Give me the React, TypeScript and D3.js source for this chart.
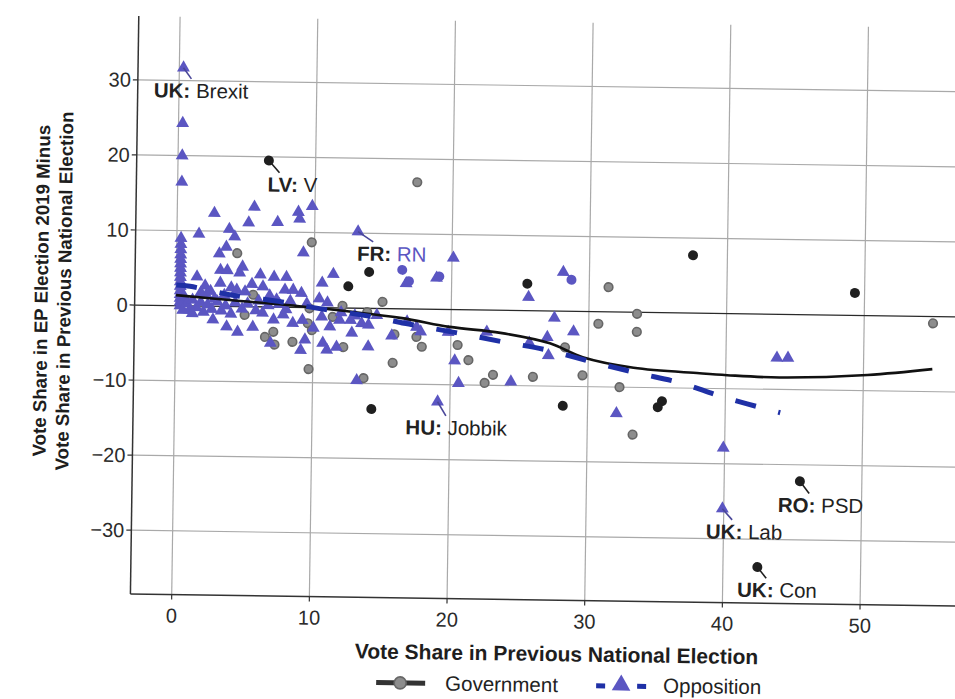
import React from 'react';
import * as d3 from 'd3';

const W = 955;
const H = 699;

const xTicks = [0, 10, 20, 30, 40, 50];
const yTicks = [-30, -20, -10, 0, 10, 20, 30];

// Government parties: [vote share in previous national election, EP 2019 change]
const govGrey: [number, number][] = [
  [17.4, 16.9], [9.8, 8.7], [4.4, 7.1], [15.0, 0.9], [5.0, -1.1], [5.6, 1.6], [9.7, -0.1],
  [12.1, 0.3], [13.9, -0.5], [11.4, -1.2], [6.5, -4.0], [7.1, -3.3], [8.5, -4.6], [9.6, -2.1],
  [9.9, -3.0], [12.2, -5.2], [7.2, -5.0], [9.7, -8.2], [15.8, -7.2], [13.7, -9.3], [17.5, -3.7],
  [17.9, -5.0], [20.5, -4.7], [21.3, -6.7], [23.1, -8.6], [22.5, -9.7], [26.0, -8.8], [29.6, -8.5],
  [28.3, -4.8], [32.3, -10.0], [33.3, -16.3], [31.4, 3.3], [30.7, -1.6], [33.5, -2.6], [33.5, -0.2],
  [55.0, -0.9], [15.9, -3.4],
];

const govBlack: [number, number][] = [
  [6.6, 19.5], [14.0, 4.85], [12.5, 2.9], [14.3, -13.4], [25.5, 3.6], [37.5, 7.7], [49.3, 3.0],
  [28.2, -12.6], [35.4, -11.8], [35.1, -12.6], [45.5, -22.2], [42.5, -33.7],
];

// Opposition parties
const oppTri: [number, number][] = [
  [0.3, 31.7], [0.3, 24.3], [0.3, 20.0], [0.3, 16.5],
  [2.7, 12.4], [5.6, 13.3], [8.8, 12.7], [9.8, 13.5], [8.9, 11.8], [7.3, 11.3], [5.2, 11.2],
  [1.6, 9.6], [3.8, 10.3], [4.2, 9.3], [3.6, 7.9], [3.1, 7.0], [9.2, 7.3], [13.15, 10.2],
  [3.2, 4.8], [3.7, 4.8], [4.8, 5.3], [4.6, 4.5], [6.1, 4.3], [7.1, 4.0], [8.0, 4.0], [1.5, 3.9],
  [2.1, 2.7], [3.2, 3.1], [4.4, 2.2], [6.3, 2.7], [7.9, 2.3], [8.5, 2.3], [9.1, 1.9], [10.6, 3.3],
  [11.4, 4.5], [10.4, 1.2],
  [2.7, -1.8], [3.7, -2.7], [4.5, -3.4], [5.6, -2.7], [6.3, -0.8], [7.1, -1.7], [7.8, -1.0],
  [8.5, -2.1], [9.2, -1.7], [10.0, -2.7], [10.6, -1.2], [11.2, -2.5], [11.9, -1.6], [12.7, -1.6],
  [14.6, -0.9], [6.9, -4.8], [9.1, -5.7], [9.4, -4.3], [11.0, -5.6], [10.7, -4.7], [11.7, -5.2],
  [14.0, -5.1], [15.7, -3.6], [13.2, -9.6], [16.8, -1.7], [17.5, -2.4],
  [20.1, 6.9], [18.9, 4.2], [16.7, 3.4], [28.1, 5.2], [25.6, 1.8], [27.5, -0.9], [28.9, -2.7],
  [27.0, -3.5], [25.7, -4.3], [22.6, -2.9], [19.8, -3.0], [17.8, -3.0], [20.3, -6.8], [20.6, -9.8],
  [24.4, -9.5], [27.1, -5.9], [32.1, -13.5], [19.1, -12.3], [43.7, -5.8], [44.5, -5.8],
  [39.9, -17.9], [39.9, -26.0],
  [0.3, 9.0], [0.3, 8.2], [0.3, 7.5], [0.3, 6.8], [0.3, 6.2], [0.3, 5.6], [0.3, 5.0], [0.3, 4.4],
  [0.3, 3.8], [0.3, 3.2], [0.3, 2.6], [0.3, 2.0], [0.3, 1.5], [0.3, 1.0], [0.3, 0.5], [0.3, 0.0],
  [0.6, 1.2], [0.8, 0.3], [1.0, -0.5], [1.2, 0.8], [1.5, -0.2], [1.8, 0.5], [2.0, -0.8], [2.3, 0.2],
  [2.6, -0.4], [3.0, 0.6], [3.3, -0.6], [0.5, -0.6], [1.2, -1.0], [2.2, 1.5], [2.8, 1.0], [3.6, 0.1],
  [4.0, -1.0], [4.3, 0.5], [4.8, -0.3], [5.2, 0.4], [5.8, -0.5], [6.0, 0.8], [6.7, 0.2], [7.5, 0.4],
  [8.0, -0.3], [1.8, 1.8], [2.5, 2.0], [3.5, 1.5], [4.0, 2.5], [5.0, 2.0], [5.5, 3.0], [6.8, 1.5],
  [7.3, 1.0], [8.3, 0.8], [9.5, 0.5], [11.0, 0.7], [12.0, -0.6], [13.0, -1.0], [14.0, -2.2],
  [13.5, -2.0], [12.8, -3.3],
];

const oppCircle: [number, number][] = [[16.4, 5.2], [16.9, 3.7], [19.1, 4.4], [28.7, 4.2]];

// Smoothed trends
const govSmooth: [number, number][] = [
  [0, 1.4], [3.9, 0.85], [9.7, 0.05], [16.3, -1.2], [19.9, -2.3], [23.6, -3.0], [27.2, -4.3],
  [29.6, -6.1], [33.3, -7.4], [38.1, -8.0], [40.1, -8.2], [43.9, -8.4], [50.3, -7.9], [55.0, -7.0],
];
const oppSmooth: [number, number][] = [
  [0, 2.75], [1.0, 2.6], [4.1, 1.5], [7.7, 0.7], [10.0, 0.0], [13.9, -1.0], [17.2, -2.1],
  [20.5, -3.1], [23.8, -4.2], [27.0, -5.2], [30.3, -6.7], [33.6, -8.1], [36.7, -9.3],
  [39.8, -11.1], [44.0, -13.1],
];

// Annotated parties
const labelCountry = ['UK', 'LV', 'FR', 'HU', 'RO', 'UK', 'UK'];
const labelParty = ['Brexit', 'V', 'RN', 'Jobbik', 'PSD', 'Lab', 'Con'];
const labelX = [0.3, 6.6, 13.15, 19.1, 45.5, 39.9, 42.5];
const labelY = [31.7, 19.5, 10.2, -12.3, -22.2, -26.0, -33.7];
const labelIsOpp = [true, false, true, true, false, true, false];

// label placement (pixel offsets from the marker)
const labelDx = [18, 24, 34, 19, 21, 22, 20];
const labelDy = [23, 24, 22, 26, 24, 23, 23];

const OPP = '#5b56c2';
const OPP_LINE = '#1f30a6';
const FONT = '"Liberation Sans", Arial, Helvetica, sans-serif';

export default function App() {
  const x = d3.scaleLinear().domain([-3, 57.5]).range([134, 967]);
  const y = d3.scaleLinear().domain([-38.5, 38.5]).range([599, 21]);
  const tri = d3.symbol().type(d3.symbolTriangle).size(72)();
  const line = d3
    .line<[number, number]>()
    .x((d) => x(d[0]))
    .y((d) => y(d[1]))
    .curve(d3.curveCatmullRom.alpha(0.5));

  const left = x.range()[0];
  const right = x.range()[1];
  const top = y.range()[1];
  const bottom = y.range()[0];
  const legendY = 684;

  return (
    <svg
      width={W}
      height={H}
      style={{ position: 'absolute', left: 0, top: 0, background: '#fff' }}
      fontFamily={FONT}
    >
      <rect width={W} height={H} fill="#fff" />
      <g transform="rotate(0.83 477 349)">
        {/* grid */}
        {xTicks.map((t) => (
          <line key={'gx' + t} x1={x(t)} x2={x(t)} y1={top} y2={bottom} stroke="#a9a9a9" strokeWidth={1.2} />
        ))}
        {yTicks.map((t) => (
          <line
            key={'gy' + t}
            x1={left}
            x2={right}
            y1={y(t)}
            y2={y(t)}
            stroke={t === 0 ? '#2a2a2a' : '#a9a9a9'}
            strokeWidth={t === 0 ? 1.3 : 1.2}
          />
        ))}

        {/* axes */}
        <line x1={left} x2={left} y1={top} y2={bottom} stroke="#333" strokeWidth={1.5} />
        <line x1={left} x2={right} y1={bottom} y2={bottom} stroke="#333" strokeWidth={1.5} />
        {yTicks.map((t) => (
          <g key={'ty' + t}>
            <line x1={left - 5} x2={left} y1={y(t)} y2={y(t)} stroke="#333" strokeWidth={1.2} />
            <text x={left - 7} y={y(t) + 7} textAnchor="end" fontSize={20} fill="#2b2b2b">
              {t < 0 ? '\u2212' + Math.abs(t) : t}
            </text>
          </g>
        ))}
        {xTicks.map((t) => (
          <g key={'tx' + t}>
            <line x1={x(t)} x2={x(t)} y1={bottom} y2={bottom + 5} stroke="#333" strokeWidth={1.2} />
            <text x={x(t)} y={627} textAnchor="middle" fontSize={20} fill="#2b2b2b">
              {t}
            </text>
          </g>
        ))}

        {/* axis titles */}
        <text x={561} y={660} textAnchor="middle" fontSize={21} fontWeight="bold" fill="#1e1e1e">
          Vote Share in Previous National Election
        </text>
        <g transform="translate(47 297) rotate(-90)">
          <text x={0} y={0} textAnchor="middle" fontSize={18.7} fontWeight="bold" fill="#1e1e1e">
            Vote Share in EP Election 2019 Minus
          </text>
          <text x={0} y={23} textAnchor="middle" fontSize={18.7} fontWeight="bold" fill="#1e1e1e">
            Vote Share in Previous National Election
          </text>
        </g>

        {/* government parties */}
        {govGrey.map((d, i) => (
          <circle key={'gg' + i} cx={x(d[0])} cy={y(d[1])} r={4.3} fill="#8d8d8d" stroke="#666" strokeWidth={1.6} />
        ))}
        {/* opposition parties */}
        {oppTri.map((d, i) => (
          <path key={'ot' + i} d={tri} transform={`translate(${x(d[0])},${y(d[1])})`} fill={OPP} />
        ))}
        {oppCircle.map((d, i) => (
          <circle key={'oc' + i} cx={x(d[0])} cy={y(d[1])} r={5} fill={OPP} />
        ))}
        {govBlack.map((d, i) => (
          <circle key={'gb' + i} cx={x(d[0])} cy={y(d[1])} r={5} fill="#1f1f1f" />
        ))}

        {/* trend lines */}
        <path d={line(govSmooth) || ''} fill="none" stroke="#111" strokeWidth={2.6} />
        <path
          d={line(oppSmooth) || ''}
          fill="none"
          stroke={OPP_LINE}
          strokeWidth={5}
          strokeDasharray="21 23"
        />

        {/* annotations */}
        {labelParty.map((p, i) => {
          const px = x(labelX[i]);
          const py = y(labelY[i]);
          const tx = px + labelDx[i];
          const ty = py + labelDy[i];
          return (
            <g key={'lab' + i}>
              <line
                x1={px}
                y1={py}
                x2={px + labelDx[i] * 0.45}
                y2={ty - 12}
                stroke={labelIsOpp[i] ? '#4a4799' : '#1f1f1f'}
                strokeWidth={1.6}
              />
              <text x={tx} y={ty + 7} textAnchor="middle" fontSize={20.5} fill="#222">
                <tspan fontWeight="bold">{labelCountry[i] + ':'}</tspan>
                <tspan fill={p === 'RN' ? OPP : '#222'}>{' ' + p}</tspan>
              </text>
            </g>
          );
        })}

        {/* legend */}
        <g>
          <line x1={381} x2={430} y1={legendY} y2={legendY} stroke="#333" strokeWidth={5} />
          <circle cx={405} cy={legendY} r={6} fill="#8d8d8d" stroke="#666" strokeWidth={1.6} />
          <text x={450} y={legendY + 7} fontSize={20.5} fill="#222">
            Government
          </text>
          <line
            x1={601}
            x2={651}
            y1={legendY}
            y2={legendY}
            stroke={OPP_LINE}
            strokeWidth={5}
            strokeDasharray="9 32 9"
          />
          <path
            d={d3.symbol().type(d3.symbolTriangle).size(150)() || ''}
            transform={`translate(626,${legendY - 1})`}
            fill={OPP}
          />
          <text x={668} y={legendY + 6} fontSize={20.5} fill="#222">
            Opposition
          </text>
        </g>
      </g>
    </svg>
  );
}
